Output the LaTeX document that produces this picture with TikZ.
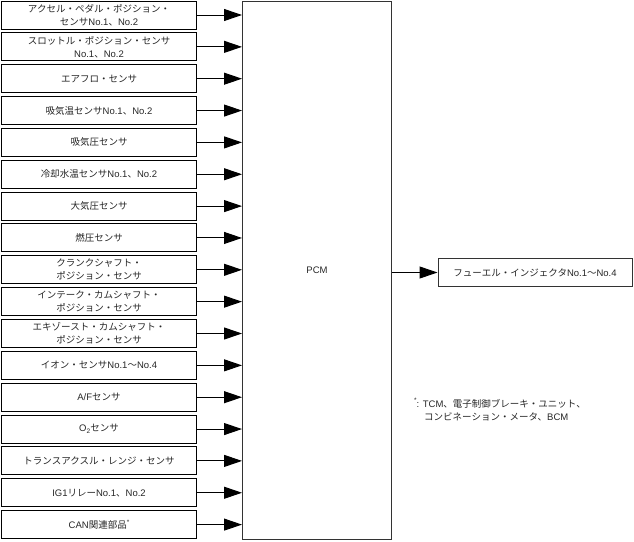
\documentclass[tikz,border=0pt]{standalone}
\usepackage{fontspec}
\setmainfont{Liberation Sans}
\newfontfamily\cjk{Noto Sans CJK JP}
\newcommand\J[1]{{\cjk #1}}
\usetikzlibrary{arrows.meta}
\begin{document}
\begin{tikzpicture}[x=1pt,y=-1pt,
  every node/.style={font=\fontsize{9.5pt}{13pt}\selectfont, text=black!85},
  sbox/.style={draw=black, line width=1pt, minimum width=195.5pt, minimum height=28pt, inner sep=0pt, align=center},
  pcmbox/.style={draw=black!80, line width=1pt, inner sep=0pt},
  conn/.style={line width=1pt, -{Triangle[length=18pt,width=12pt]}}]
\useasboundingbox (0,0) rectangle (634,541);
\node[pcmbox, minimum width=149pt, minimum height=538pt] (pcm) at (317,270) {PCM};
\node[sbox] (b1) at (99,15) {\J{アクセル・ペダル・ポジション・}\\\J{センサ}No.1\J{、}No.2};
\node[sbox] (b2) at (99,46.85) {\J{スロットル・ポジション・センサ}\\No.1\J{、}No.2};
\node[sbox] (b3) at (99,78.7) {\J{エアフロ・センサ}};
\node[sbox] (b4) at (99,110.55) {\J{吸気温センサ}No.1\J{、}No.2};
\node[sbox] (b5) at (99,142.4) {\J{吸気圧センサ}};
\node[sbox] (b6) at (99,174.25) {\J{冷却水温センサ}No.1\J{、}No.2};
\node[sbox] (b7) at (99,206.1) {\J{大気圧センサ}};
\node[sbox] (b8) at (99,237.95) {\J{燃圧センサ}};
\node[sbox] (b9) at (99,269.8) {\J{クランクシャフト・}\\\J{ポジション・センサ}};
\node[sbox] (b10) at (99,301.65) {\J{インテーク・カムシャフト・}\\\J{ポジション・センサ}};
\node[sbox] (b11) at (99,333.5) {\J{エキゾースト・カムシャフト・}\\\J{ポジション・センサ}};
\node[sbox] (b12) at (99,365.35) {\J{イオン・センサ}No.1\J{〜}No.4};
\node[sbox] (b13) at (99,397.2) {A/F\J{センサ}};
\node[sbox] (b14) at (99,429.05) {O\raisebox{-0.3ex}{\fontsize{6.5pt}{7pt}\selectfont 2}\J{センサ}};
\node[sbox] (b15) at (99,460.9) {\J{トランスアクスル・レンジ・センサ}};
\node[sbox] (b16) at (99,492.75) {IG1\J{リレー}No.1\J{、}No.2};
\node[sbox] (b17) at (99,524.6) {CAN\J{関連部品}\raisebox{0.9ex}{\fontsize{6.5pt}{7pt}\selectfont *}};
\foreach \i in {1,...,17}{
  \draw[conn] (b\i.east) -- (b\i.east -| pcm.west);
}
\node[draw=black!80, line width=1pt, minimum width=194pt, minimum height=28pt, inner sep=0pt] (inj) at (535,272.5) {\J{フューエル・インジェクタ}No.1\J{〜}No.4};
\draw[conn] (pcm.east |- inj.west) -- (inj.west);
\node[anchor=north west, align=left, inner sep=0pt] (note) at (414,398) {\raisebox{0.9ex}{\fontsize{6.5pt}{7pt}\selectfont *}: TCM\J{、電子制御ブレーキ・ユニット、}\\\hspace*{10pt}\J{コンビネーション・メータ、}BCM};
\end{tikzpicture}
\end{document}
